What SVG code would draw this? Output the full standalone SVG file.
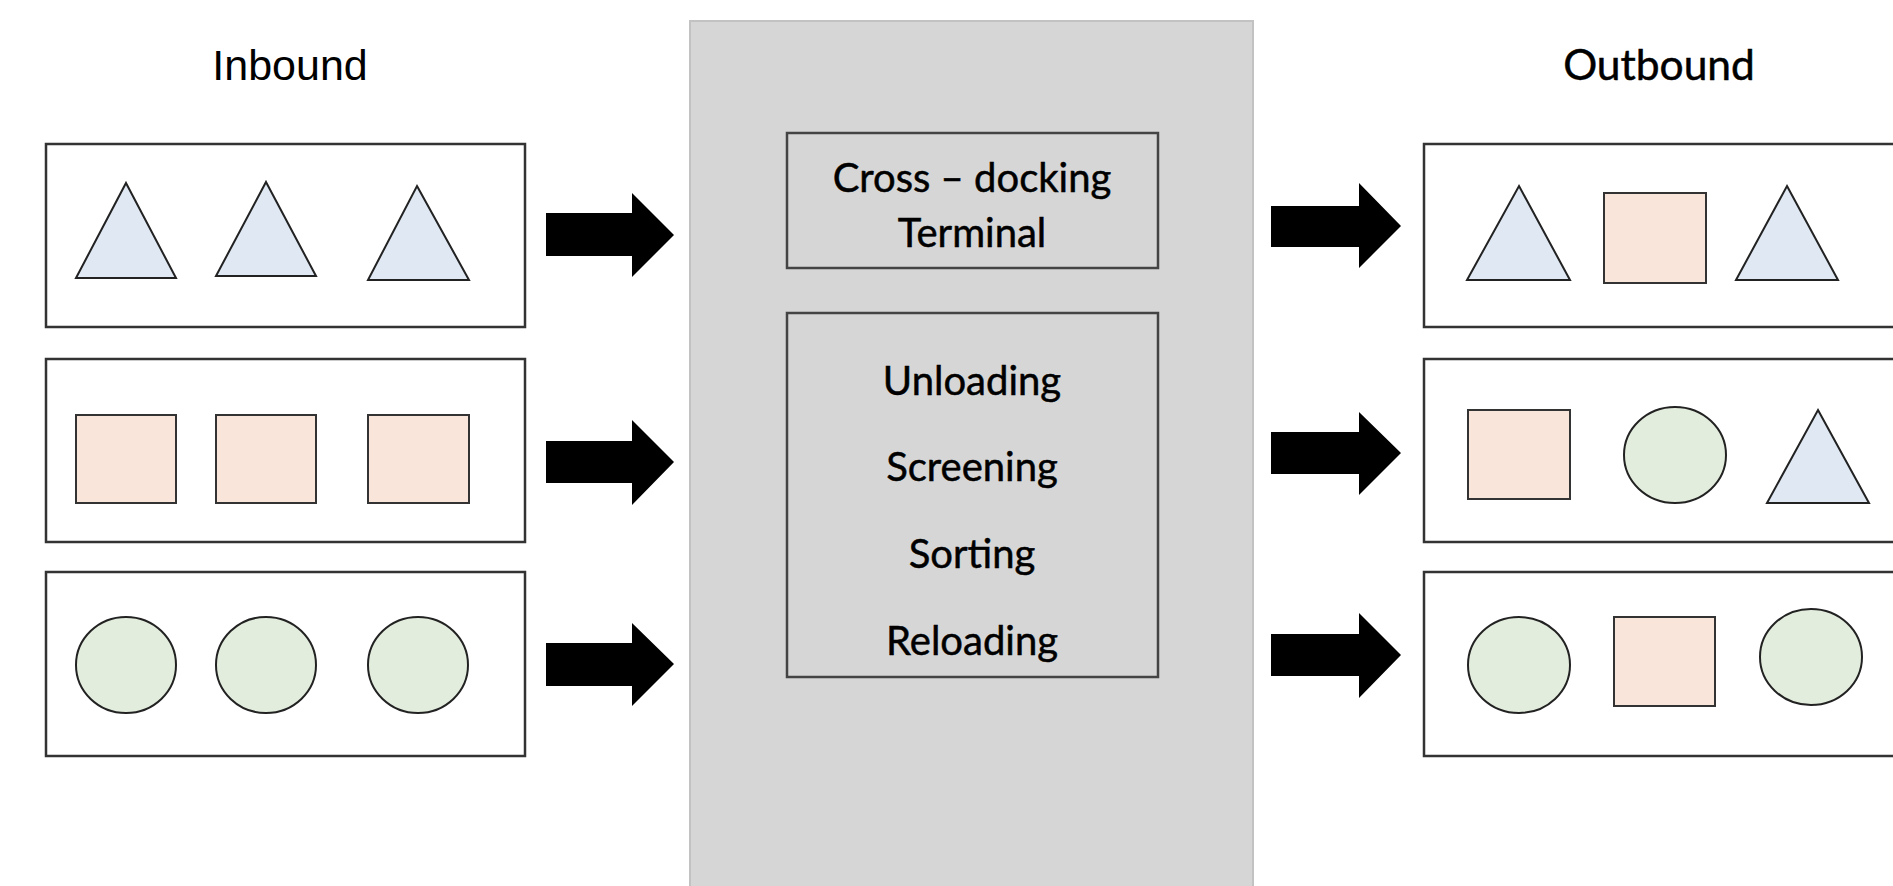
<svg xmlns="http://www.w3.org/2000/svg" width="1893" height="886" viewBox="0 0 1893 886">
<defs>
<style>
.box{fill:#ffffff;stroke:#333333;stroke-width:2.5}
.inner{fill:none;stroke:#444444;stroke-width:2.5}
.tri{fill:#dfe8f3;stroke:#222222;stroke-width:2}
.sq{fill:#f9e5da;stroke:#333333;stroke-width:2}
.cir{fill:#e3eddd;stroke:#222222;stroke-width:2}
.arrow{fill:#000000}
.hdr{font-family:"Liberation Sans",Arial,sans-serif;font-size:43px;fill:#000;text-anchor:middle}
.lbl{font-family:Lato,"Open Sans",sans-serif;font-size:40px;fill:#000;stroke:#000;stroke-width:0.5;text-anchor:middle}
.out{font-size:42.5px}
</style>
</defs>
<rect width="1893" height="886" fill="#ffffff"/>

<g id="terminal-panel">
<rect x="690" y="21" width="563" height="880" fill="#d6d6d6" stroke="#c2c2c2" stroke-width="2"/>
</g>

<g id="inbound-label"><text class="hdr" x="290" y="80">Inbound</text></g>
<g id="outbound-label"><text class="lbl out" x="1659" y="80">Outbound</text></g>

<g id="terminal-title">
<rect class="inner" x="787" y="133" width="371" height="135"/>
<text class="lbl" x="972" y="192">Cross – docking</text>
<text class="lbl" x="972" y="247">Terminal</text>
</g>

<g id="terminal-operations">
<rect class="inner" x="787" y="313" width="371" height="364"/>
<text class="lbl" x="972" y="395">Unloading</text>
<text class="lbl" x="972" y="481">Screening</text>
<text class="lbl" x="972" y="568">Sorting</text>
<text class="lbl" x="972" y="655">Reloading</text>
</g>

<g id="inbound-1">
<rect class="box" x="46" y="144" width="479" height="183"/>
<polygon class="tri" points="126,183 176,278 76,278"/>
<polygon class="tri" points="266,182 316,276 216,276"/>
<polygon class="tri" points="417,186 469,280 368,280"/>
</g>
<g id="inbound-2">
<rect class="box" x="46" y="359" width="479" height="183"/>
<rect class="sq" x="76" y="415" width="100" height="88"/>
<rect class="sq" x="216" y="415" width="100" height="88"/>
<rect class="sq" x="368" y="415" width="101" height="88"/>
</g>
<g id="inbound-3">
<rect class="box" x="46" y="572" width="479" height="184"/>
<ellipse class="cir" cx="126" cy="665" rx="50" ry="48"/>
<ellipse class="cir" cx="266" cy="665" rx="50" ry="48"/>
<ellipse class="cir" cx="418" cy="665" rx="50" ry="48"/>
</g>

<g id="outbound-1">
<rect class="box" x="1424" y="144" width="500" height="183"/>
<polygon class="tri" points="1519,186 1570,280 1467,280"/>
<rect class="sq" x="1604" y="193" width="102" height="90"/>
<polygon class="tri" points="1787,186 1838,280 1736,280"/>
</g>
<g id="outbound-2">
<rect class="box" x="1424" y="359" width="500" height="183"/>
<rect class="sq" x="1468" y="410" width="102" height="89"/>
<ellipse class="cir" cx="1675" cy="455" rx="51" ry="48"/>
<polygon class="tri" points="1818,410 1869,503 1767,503"/>
</g>
<g id="outbound-3">
<rect class="box" x="1424" y="572" width="500" height="184"/>
<ellipse class="cir" cx="1519" cy="665" rx="51" ry="48"/>
<rect class="sq" x="1614" y="617" width="101" height="89"/>
<ellipse class="cir" cx="1811" cy="657" rx="51" ry="48"/>
</g>

<g id="connectors">
<polygon class="arrow" points="546,213 632,213 632,193 674,235 632,277 632,256 546,256"/>
<polygon class="arrow" points="546,441 632,441 632,420 674,462 632,505 632,483 546,483"/>
<polygon class="arrow" points="546,643 632,643 632,623 674,664 632,706 632,686 546,686"/>
<polygon class="arrow" points="1271,206 1359,206 1359,183 1401,226 1359,268 1359,247 1271,247"/>
<polygon class="arrow" points="1271,432 1359,432 1359,412 1401,453 1359,495 1359,474 1271,474"/>
<polygon class="arrow" points="1271,634 1359,634 1359,613 1401,655 1359,698 1359,676 1271,676"/>
</g>
</svg>
